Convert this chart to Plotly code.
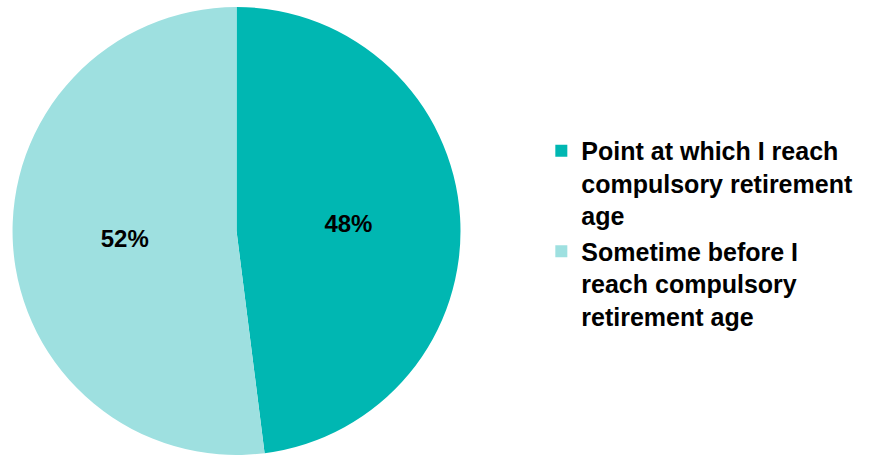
import plotly.graph_objects as go

# Share of respondents by planned timing
labels = [
    "Point at which I reach<br>compulsory retirement<br>age",
    "Sometime before I<br>reach compulsory<br>retirement age",
]
values = [48, 52]
colors = ["#00B7B2", "#9EE0E0"]

W, H = 871, 457
FONT = "Arial, Liberation Sans, sans-serif"

fig = go.Figure(
    go.Pie(
        labels=labels,
        values=values,
        sort=False,
        direction="clockwise",
        rotation=0,
        marker=dict(colors=colors, line=dict(width=0)),
        textinfo="percent",
        texttemplate="<b>%{percent:.0%}</b>",
        textposition="inside",
        insidetextorientation="horizontal",
        textfont=dict(family=FONT, size=24, color="black"),
        domain=dict(x=[0.0144, 0.5287], y=[0.0044, 0.9847]),
        hoverinfo="label+percent",
    )
)

fig.update_layout(
    width=W,
    height=H,
    margin=dict(l=0, r=0, t=0, b=0),
    paper_bgcolor="white",
    plot_bgcolor="white",
    font=dict(family=FONT, color="black"),
    showlegend=True,
    legend=dict(
        x=0.6215,
        y=0.72,
        xanchor="left",
        yanchor="top",
        valign="top",
        font=dict(size=25, color="black", family=FONT, weight="bold"),
        bgcolor="rgba(0,0,0,0)",
        borderwidth=0,
        tracegroupgap=0,
    ),
)

fig.write_html("out.html")
